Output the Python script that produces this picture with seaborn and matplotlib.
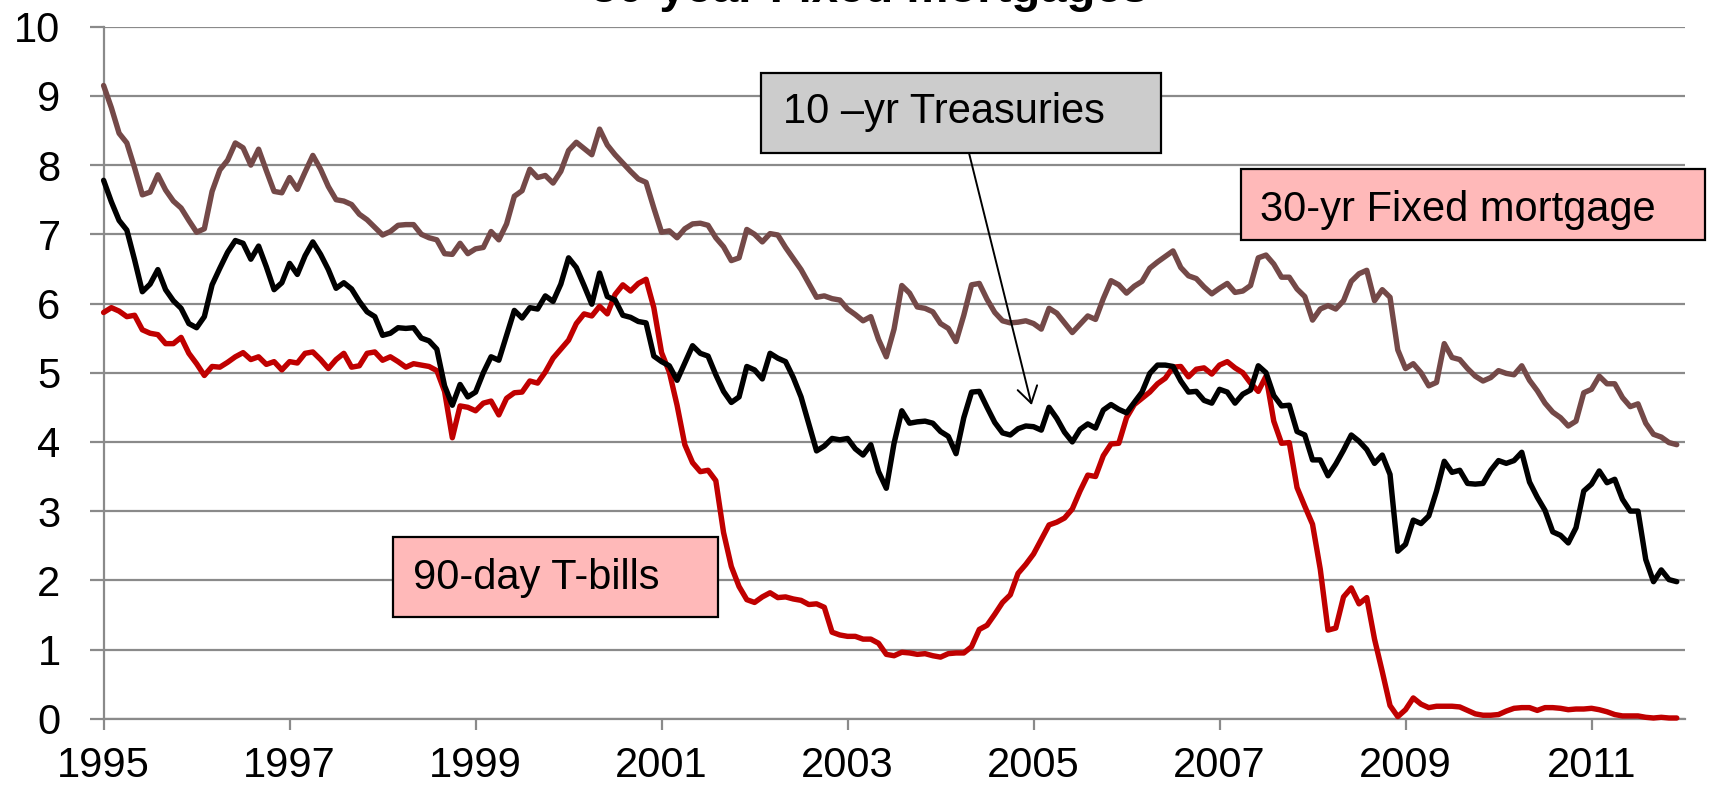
import numpy as np
import pandas as pd
import matplotlib
matplotlib.use('Agg')
import matplotlib.pyplot as plt
from matplotlib.patches import Rectangle
import seaborn as sb

# monthly rates in percent, Jan 1995 - Dec 2011
mortgage_30yr = [
    9.15, 8.83, 8.46, 8.32, 7.96, 7.57, 7.61, 7.86, 7.64, 7.48, 7.38, 7.20,
    7.03, 7.08, 7.62, 7.93, 8.07, 8.32, 8.25, 8.00, 8.23, 7.92, 7.62, 7.60,
    7.82, 7.65, 7.90, 8.14, 7.94, 7.69, 7.50, 7.48, 7.43, 7.29, 7.21, 7.10,
    6.99, 7.04, 7.13, 7.14, 7.14, 7.00, 6.95, 6.92, 6.72, 6.71, 6.87, 6.72,
    6.79, 6.81, 7.04, 6.92, 7.15, 7.55, 7.63, 7.94, 7.82, 7.85, 7.74, 7.91,
    8.21, 8.33, 8.24, 8.15, 8.52, 8.29, 8.15, 8.03, 7.91, 7.80, 7.75, 7.38,
    7.03, 7.05, 6.95, 7.08, 7.15, 7.16, 7.13, 6.95, 6.82, 6.62, 6.66, 7.07,
    7.00, 6.89, 7.01, 6.99, 6.81, 6.65, 6.49, 6.29, 6.09, 6.11, 6.07, 6.05,
    5.92, 5.84, 5.75, 5.81, 5.48, 5.23, 5.63, 6.26, 6.15, 5.95, 5.93, 5.88,
    5.71, 5.64, 5.45, 5.83, 6.27, 6.29, 6.06, 5.87, 5.75, 5.72, 5.73, 5.75,
    5.71, 5.63, 5.93, 5.86, 5.72, 5.58, 5.70, 5.82, 5.77, 6.07, 6.33, 6.27,
    6.15, 6.25, 6.32, 6.51, 6.60, 6.68, 6.76, 6.52, 6.40, 6.36, 6.24, 6.14,
    6.22, 6.29, 6.16, 6.18, 6.26, 6.66, 6.70, 6.57, 6.38, 6.38, 6.21, 6.10,
    5.76, 5.92, 5.97, 5.92, 6.04, 6.32, 6.43, 6.48, 6.04, 6.20, 6.09, 5.33,
    5.06, 5.13, 5.00, 4.81, 4.86, 5.42, 5.22, 5.19, 5.06, 4.95, 4.88, 4.93,
    5.03, 4.99, 4.97, 5.10, 4.89, 4.74, 4.56, 4.43, 4.35, 4.23, 4.30, 4.71,
    4.76, 4.95, 4.84, 4.84, 4.64, 4.51, 4.55, 4.27, 4.11, 4.07, 3.99, 3.96,
]

treasury_10yr = [
    7.78, 7.47, 7.20, 7.06, 6.63, 6.17, 6.28, 6.49, 6.20, 6.04, 5.93, 5.71,
    5.65, 5.81, 6.27, 6.51, 6.74, 6.91, 6.87, 6.64, 6.83, 6.53, 6.20, 6.30,
    6.58, 6.42, 6.69, 6.89, 6.71, 6.49, 6.22, 6.30, 6.21, 6.03, 5.88, 5.81,
    5.54, 5.57, 5.65, 5.64, 5.65, 5.50, 5.46, 5.34, 4.81, 4.53, 4.83, 4.65,
    4.72, 5.00, 5.23, 5.18, 5.54, 5.90, 5.79, 5.94, 5.92, 6.11, 6.03, 6.28,
    6.66, 6.52, 6.26, 5.99, 6.44, 6.10, 6.05, 5.83, 5.80, 5.74, 5.72, 5.24,
    5.16, 5.10, 4.89, 5.14, 5.39, 5.28, 5.24, 4.97, 4.73, 4.57, 4.65, 5.09,
    5.04, 4.91, 5.28, 5.21, 5.16, 4.93, 4.65, 4.26, 3.87, 3.94, 4.05, 4.03,
    4.05, 3.90, 3.81, 3.96, 3.57, 3.33, 3.98, 4.45, 4.27, 4.29, 4.30, 4.27,
    4.15, 4.08, 3.83, 4.35, 4.72, 4.73, 4.50, 4.28, 4.13, 4.10, 4.19, 4.23,
    4.22, 4.17, 4.50, 4.34, 4.14, 4.00, 4.18, 4.26, 4.20, 4.46, 4.54, 4.47,
    4.42, 4.57, 4.72, 4.99, 5.11, 5.11, 5.09, 4.88, 4.72, 4.73, 4.60, 4.56,
    4.76, 4.72, 4.56, 4.69, 4.75, 5.10, 5.00, 4.67, 4.52, 4.53, 4.15, 4.10,
    3.74, 3.74, 3.51, 3.68, 3.88, 4.10, 4.01, 3.89, 3.69, 3.81, 3.53, 2.42,
    2.52, 2.87, 2.82, 2.93, 3.29, 3.72, 3.56, 3.59, 3.40, 3.39, 3.40, 3.59,
    3.73, 3.69, 3.73, 3.85, 3.42, 3.20, 3.01, 2.70, 2.65, 2.54, 2.76, 3.29,
    3.39, 3.58, 3.41, 3.46, 3.17, 3.00, 3.00, 2.30, 1.98, 2.15, 2.01, 1.98,
]

tbill_90day = [
    5.87, 5.94, 5.89, 5.81, 5.83, 5.62, 5.57, 5.55, 5.42, 5.42, 5.51, 5.28,
    5.13, 4.96, 5.09, 5.08, 5.15, 5.23, 5.29, 5.19, 5.23, 5.12, 5.16, 5.04,
    5.16, 5.14, 5.28, 5.30, 5.19, 5.06, 5.19, 5.28, 5.08, 5.10, 5.28, 5.30,
    5.18, 5.23, 5.16, 5.08, 5.13, 5.11, 5.09, 5.03, 4.73, 4.06, 4.52, 4.50,
    4.45, 4.56, 4.59, 4.39, 4.63, 4.71, 4.72, 4.88, 4.85, 5.01, 5.21, 5.34,
    5.47, 5.71, 5.85, 5.82, 5.96, 5.85, 6.13, 6.27, 6.18, 6.29, 6.35, 5.94,
    5.29, 5.01, 4.53, 3.96, 3.70, 3.57, 3.59, 3.44, 2.69, 2.20, 1.91, 1.72,
    1.68, 1.76, 1.82, 1.75, 1.76, 1.73, 1.71, 1.65, 1.66, 1.61, 1.25, 1.21,
    1.19, 1.19, 1.15, 1.15, 1.09, 0.93, 0.91, 0.96, 0.95, 0.93, 0.94, 0.91,
    0.89, 0.94, 0.95, 0.95, 1.04, 1.29, 1.35, 1.51, 1.68, 1.79, 2.10, 2.23,
    2.38, 2.59, 2.80, 2.84, 2.90, 3.03, 3.29, 3.52, 3.50, 3.80, 3.97, 3.98,
    4.35, 4.54, 4.63, 4.72, 4.84, 4.92, 5.08, 5.09, 4.94, 5.05, 5.07, 4.98,
    5.11, 5.16, 5.07, 5.00, 4.85, 4.73, 4.95, 4.30, 3.98, 3.99, 3.34, 3.07,
    2.81, 2.16, 1.28, 1.31, 1.76, 1.89, 1.66, 1.75, 1.15, 0.68, 0.19, 0.03,
    0.13, 0.30, 0.21, 0.16, 0.18, 0.18, 0.18, 0.17, 0.12, 0.07, 0.05, 0.05,
    0.06, 0.11, 0.15, 0.16, 0.16, 0.12, 0.16, 0.16, 0.15, 0.13, 0.14, 0.14,
    0.15, 0.13, 0.10, 0.06, 0.04, 0.04, 0.04, 0.02, 0.01, 0.02, 0.01, 0.01,
]

start_year = 1995
tick_years = [1995, 1997, 1999, 2001, 2003, 2005, 2007, 2009, 2011]
y_ticks = [0, 1, 2, 3, 4, 5, 6, 7, 8, 9, 10]

series_names = ['30-yr Fixed mortgage', '90-day T-bills', '10 -yr Treasuries']
series_colors = ['#744948', '#C00000', '#000000']

sb.set_style('white')
plt.rcParams['font.family'] = ['Liberation Sans', 'DejaVu Sans']
plt.rcParams['text.color'] = 'black'

# long format table for seaborn
n = len(mortgage_30yr)
years = start_year + np.arange(n) / 12
rates = pd.DataFrame({
    'year': np.concatenate([years, years, years]),
    'rate': np.concatenate([mortgage_30yr, tbill_90day, treasury_10yr]),
    'series': np.repeat(series_names, n),
})

W, H = 1710, 789
fig = plt.figure(figsize=(W / 100, H / 100), dpi=100)
ax = fig.add_axes([103.6 / W, 1 - 718.7 / H, (1684.5 - 103.6) / W, (718.7 - 26.7) / H])

sb.lineplot(data=rates, x='year', y='rate', hue='series', hue_order=series_names,
            palette=series_colors, estimator=None, errorbar=None, legend=False,
            linewidth=3.9, ax=ax)
for line in ax.lines:
    line.set_solid_joinstyle('round')
    line.set_solid_capstyle('round')
    line.set_clip_on(False)
    line.set_zorder(3)

grid_col = '#8A8A8A'
ax.set_xlim(1995, 2012)
ax.set_ylim(0, 10)
ax.set_xticks(tick_years)
ax.set_xticklabels([str(y) for y in tick_years])
ax.set_yticks(y_ticks)
ax.set_xlabel('')
ax.set_ylabel('')
ax.yaxis.grid(True, color=grid_col, linewidth=1.6)
ax.xaxis.grid(False)
ax.set_axisbelow(True)
for side in ['top', 'right']:
    ax.spines[side].set_visible(False)
for side in ['left', 'bottom']:
    ax.spines[side].set_color(grid_col)
    ax.spines[side].set_linewidth(1.6)
ax.tick_params(axis='y', left=True, direction='out', length=10, width=1.6,
               color=grid_col, labelcolor='black', labelsize=30, pad=21)
ax.tick_params(axis='x', bottom=True, direction='out', length=8, width=1.6,
               color=grid_col, labelcolor='black', labelsize=30, pad=12)

# title, mostly cut off at the top edge as in the original
fig.text(870 / W, 1 - 2 / H, '30-year Fixed mortgages', ha='center', va='baseline',
         fontsize=34, fontweight='bold', color='black')


def label_box(x0, y0, x1, y1, face, text, tx, ty):
    fig.patches.append(Rectangle((x0 / W, 1 - y1 / H), (x1 - x0) / W, (y1 - y0) / H,
                                 transform=fig.transFigure, facecolor=face,
                                 edgecolor='black', linewidth=1.6, zorder=5))
    fig.text(tx / W, 1 - ty / H, text, ha='left', va='baseline', fontsize=30,
             color='black', zorder=6)


label_box(761, 73, 1161, 153, '#CCCCCC', '10 \u2013yr Treasuries', 783, 123)
label_box(1241, 169, 1705, 240, '#FFB9B9', '30-yr Fixed mortgage', 1260, 221)
label_box(393, 537, 718, 617, '#FFB9B9', '90-day T-bills', 413, 589)

ax.annotate('', xy=(1031.7 / W, 1 - 405 / H), xycoords='figure fraction',
            xytext=(969 / W, 1 - 153 / H), textcoords='figure fraction',
            arrowprops=dict(arrowstyle='->, head_length=1.15, head_width=0.72',
                            color='black', lw=1.4, shrinkA=0, shrinkB=0,
                            mutation_scale=10),
            annotation_clip=False, zorder=6)

fig.savefig('out.png', dpi=100)
